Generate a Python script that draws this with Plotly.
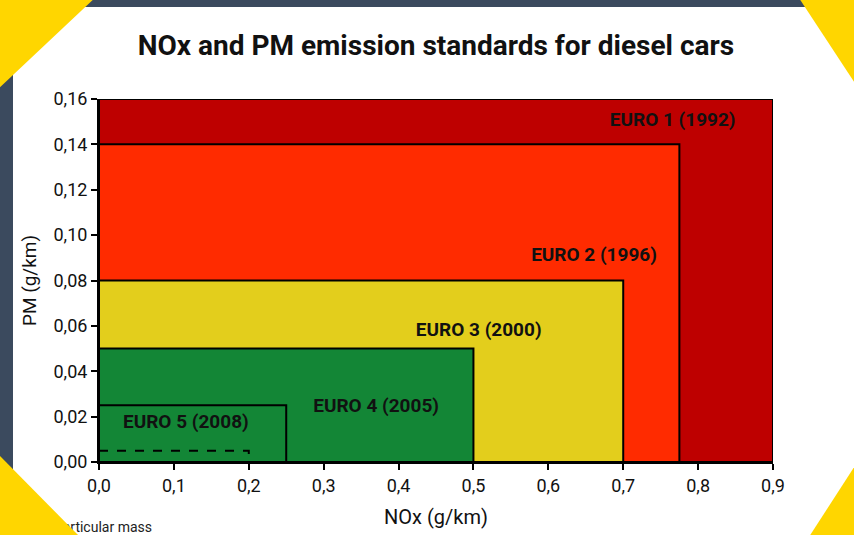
import plotly.graph_objects as go

# ---- data ----
standards = ["EURO 1 (1992)", "EURO 2 (1996)", "EURO 3 (2000)", "EURO 4 (2005)", "EURO 5 (2008)"]
nox_limits = [0.90, 0.775, 0.70, 0.50, 0.25]
pm_limits = [0.16, 0.14, 0.08, 0.05, 0.025]
fill_colors = ["#BE0000", "#FF2B00", "#E3CE1C", "#138636", "#138636"]
label_x = [0.766, 0.661, 0.507, 0.370, 0.116]
label_y = [0.150, 0.0908, 0.0577, 0.0242, 0.0172]
dashed_nox = [0.0, 0.2, 0.2]
dashed_pm = [0.005, 0.005, 0.0]
x_ticks = [0.0, 0.1, 0.2, 0.3, 0.4, 0.5, 0.6, 0.7, 0.8, 0.9]
y_ticks = [0.00, 0.02, 0.04, 0.06, 0.08, 0.10, 0.12, 0.14, 0.16]
footnote = "PM = particular mass"

W, H = 854, 535
L, R, T, B = 99, 773, 99, 462
FONT = "Roboto"
SLATE = "#3B4A5E"
GOLD = "#FFD600"


def px(x):
    return (x - L) / (R - L)


def py(y):
    return (B - y) / (B - T)


def path(points):
    s = "M " + " L ".join(f"{px(x):.5f},{py(y):.5f}" for x, y in points) + " Z"
    return s


fig = go.Figure()

shapes = []
# standard rectangles
for nx, pm, col in zip(nox_limits, pm_limits, fill_colors):
    shapes.append(dict(type="rect", xref="x", yref="y", x0=0, x1=nx, y0=0, y1=pm,
                       fillcolor=col, line=dict(color="black", width=2), layer="below"))

# footnote (as a shape label, so that the corner decoration can cover its start)
shapes.append(dict(type="rect", xref="paper", yref="paper", x0=px(0), x1=px(155),
                   y0=py(535), y1=py(517), fillcolor="rgba(0,0,0,0)", line_width=0,
                   layer="above",
                   label=dict(text=footnote, textposition="middle right", padding=0,
                              font=dict(family=FONT, size=14, color="#222222"))))

# decorative frame
shapes.append(dict(type="rect", xref="paper", yref="paper", x0=px(-5), x1=px(W + 5),
                   y0=py(7), y1=py(-5), fillcolor=SLATE, line_width=0, layer="above"))
shapes.append(dict(type="rect", xref="paper", yref="paper", x0=px(-5), x1=px(13),
                   y0=py(H + 5), y1=py(-5), fillcolor=SLATE, line_width=0, layer="above"))
for pts in [
    [(-5, -5), (98, -5), (-5, 92)],
    [(797, -5), (W + 6, -5), (W + 6, 91)],
    [(-5, 451), (83, H + 5), (-5, H + 5)],
    [(W + 6, 458), (W + 6, H + 5), (807, H + 5)],
]:
    shapes.append(dict(type="path", xref="paper", yref="paper", path=path(pts),
                       fillcolor=GOLD, line_width=0, layer="above"))

# dashed line
fig.add_trace(go.Scatter(x=dashed_nox, y=dashed_pm, mode="lines",
                         line=dict(color="black", width=2, dash="dash"),
                         hoverinfo="skip", showlegend=False))

# labels
fig.add_trace(go.Scatter(x=label_x, y=label_y, mode="text", text=standards,
                         textfont=dict(family=FONT, size=19, color="#111111", weight="bold"),
                         hoverinfo="skip", showlegend=False))

fig.update_layout(
    width=W, height=H,
    margin=dict(l=L, r=W - R, t=T, b=H - B),
    paper_bgcolor="white", plot_bgcolor="white",
    separators=",.",
    shapes=shapes,
    title=dict(text="<b>NOx and PM emission standards for diesel cars</b>",
               x=0.5, xref="paper", xanchor="center",
               y=1 - 45 / H, yref="container", yanchor="middle",
               font=dict(family=FONT, size=28, color="#111111")),
    xaxis=dict(range=[0, 0.9], tickvals=x_ticks, tickformat=".1f",
               showgrid=False, zeroline=False, automargin=False,
               showline=True, linecolor="black", linewidth=2,
               ticks="outside", ticklen=6, tickwidth=2, tickcolor="black",
               tickfont=dict(family=FONT, size=18, color="#111111"),
               title=dict(text="NOx (g/km)", font=dict(family=FONT, size=20, color="#111111"),
                          standoff=15)),
    yaxis=dict(range=[0, 0.16], tickvals=y_ticks, tickformat=".2f",
               showgrid=False, zeroline=False, automargin=False,
               showline=True, linecolor="black", linewidth=2,
               ticks="outside", ticklen=6, tickwidth=2, tickcolor="black",
               tickfont=dict(family=FONT, size=18, color="#111111"),
               title=dict(text="PM (g/km)", font=dict(family=FONT, size=19, color="#111111"),
                          standoff=12)),
    hovermode=False,
)

fig.write_html("out.html", config={"displayModeBar": False},
               post_script="document.body.style.margin='0';")
